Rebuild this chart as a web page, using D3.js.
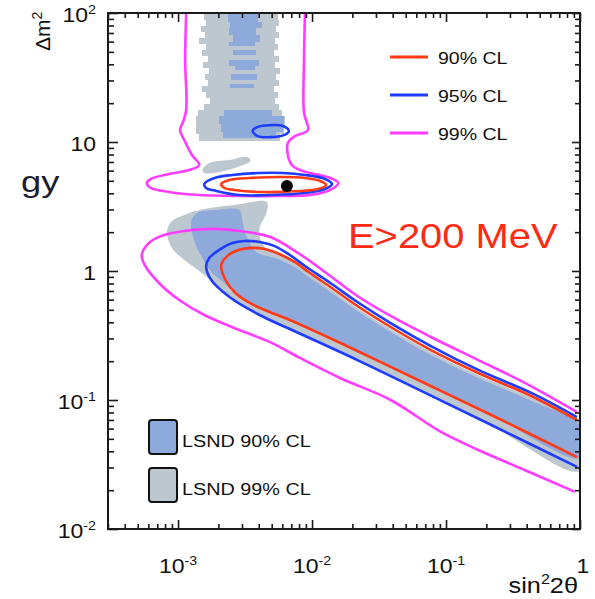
<!DOCTYPE html>
<html><head><meta charset="utf-8">
<script src="https://cdn.jsdelivr.net/npm/d3@7"></script>
<style>
body{margin:0;background:#fff}
svg{display:block}
text{font-family:"Liberation Sans",Arial,sans-serif}
</style>
</head><body>
<svg id="chart" width="595" height="599"></svg>
<script>
// ---- axes ----
const xDomain = [3e-4, 1];
const yDomain = [0.01, 100];
const xTicks = [1e-3, 1e-2, 1e-1, 1];
const xTickBase = ["10", "10", "10", "1"];
const xTickExp = ["-3", "-2", "-1", ""];
const yTicks = [0.01, 0.1, 1, 10, 100];
const yTickBase = ["10", "10", "1", "10", "10"];
const yTickExp = ["-2", "-1", "", "", "2"];

// ---- LSND allowed regions: [sin^2 2θ, Δm²] ----
// high-Δm² column, stored as horizontal slices [Δm² top, Δm² bottom, sin² left, sin² right]
const lsnd99Slices = [
  [100, 88.3, 1.57e-3, 5.55e-3], [88.3, 79.3, 1.62e-3, 5.65e-3], [79.3, 71.2, 1.49e-3, 5.36e-3],
  [71.2, 64.0, 1.60e-3, 5.65e-3], [64.0, 57.5, 1.44e-3, 5.27e-3], [57.5, 51.7, 1.62e-3, 5.55e-3],
  [51.7, 46.4, 1.52e-3, 5.18e-3], [46.4, 41.7, 1.68e-3, 5.65e-3], [41.7, 37.5, 1.54e-3, 5.27e-3],
  [37.5, 33.7, 1.71e-3, 5.75e-3], [33.7, 30.2, 1.60e-3, 5.36e-3], [30.2, 27.2, 1.68e-3, 5.65e-3],
  [27.2, 24.4, 1.52e-3, 5.18e-3], [24.4, 21.9, 1.62e-3, 5.55e-3], [21.9, 19.7, 1.74e-3, 5.27e-3],
  [19.7, 17.7, 1.57e-3, 5.65e-3], [17.7, 15.9, 1.41e-3, 5.95e-3], [15.9, 13.3, 1.37e-3, 6.27e-3],
  [13.3, 11.5, 1.37e-3, 6.16e-3], [11.5, 10.2, 1.44e-3, 5.75e-3]
];
const lsnd90Slices = [
  [100, 85.1, 2.34e-3, 3.93e-3], [85.1, 76.5, 2.46e-3, 4.21e-3], [76.5, 67.5, 2.38e-3, 3.79e-3],
  [67.5, 59.6, 2.55e-3, 4.06e-3], [59.6, 55.5, 2.42e-3, 3.73e-3], [51.7, 47.3, 2.55e-3, 3.79e-3],
  [43.2, 38.8, 2.42e-3, 4.00e-3], [38.8, 36.1, 2.68e-3, 3.73e-3], [33.7, 30.2, 2.50e-3, 3.86e-3],
  [28.2, 26.2, 2.46e-3, 3.66e-3], [17.7, 15.9, 2.22e-3, 5.00e-3], [15.9, 13.8, 2.03e-3, 6.16e-3],
  [13.8, 11.95, 2.10e-3, 6.05e-3], [11.95, 10.7, 2.18e-3, 5.36e-3]
];
const lsnd99Island = [
  [1.52e-3, 6.06], [1.71e-3, 6.87], [2.42e-3, 7.25], [3.30e-3, 7.65],
  [3.48e-3, 7.12], [2.78e-3, 6.40], [1.87e-3, 5.75], [1.57e-3, 5.75]
];
const lsnd99Band = [
  [8.27e-4, 2.01], [8.86e-4, 2.40], [1.11e-3, 2.72], [1.57e-3, 3.02], [2.64e-3, 3.25],
  [4.59e-3, 3.43], [4.59e-3, 2.87], [4.06e-3, 2.15], [4.14e-3, 1.74], [4.67e-3, 1.46],
  [5.95e-3, 1.31], [8.12e-3, 1.11], [1.37e-2, 0.725], [2.18e-2, 0.517], [3.86e-2, 0.355],
  [7.71e-2, 0.236], [0.174, 0.156], [0.436, 0.104], [1.0, 0.0675], [1.0, 0.0282],
  [0.218, 0.0629], [6.83e-2, 0.113], [2.18e-2, 0.201], [6.83e-3, 0.349], [4.06e-3, 0.448],
  [2.42e-3, 0.618], [1.77e-3, 0.837], [1.44e-3, 1.0], [1.11e-3, 1.22], [9.01e-4, 1.51]
];
const lsnd90Band = [
  [1.25e-3, 2.40], [1.39e-3, 2.82], [1.87e-3, 2.97], [2.87e-3, 2.97], [3.03e-3, 2.40],
  [3.25e-3, 1.84], [3.86e-3, 1.40], [5.27e-3, 1.26], [7.45e-3, 1.07], [9.66e-3, 0.882],
  [1.37e-2, 0.688], [2.18e-2, 0.490], [3.86e-2, 0.337], [7.71e-2, 0.223], [0.174, 0.148],
  [0.436, 0.0982], [1.0, 0.0629], [1.0, 0.0355], [0.218, 0.0765], [6.83e-2, 0.136],
  [2.18e-2, 0.240], [6.83e-3, 0.417], [4.83e-3, 0.481], [3.54e-3, 0.555], [2.68e-3, 0.675],
  [2.30e-3, 0.779], [1.77e-3, 0.982], [1.52e-3, 1.26], [1.34e-3, 1.65]
];

// ---- confidence-level contours: [sin^2 2θ, Δm²] ----
const cl99Upper = [
  [1.15e-3, 100], [1.13e-3, 43.2], [1.15e-3, 17.7], [1.09e-3, 14.3], [1.035e-3, 12.4],
  [1.11e-3, 10.4], [1.27e-3, 7.93], [1.44e-3, 6.63], [1.21e-3, 6.06], [8.56e-4, 5.65],
  [6.27e-4, 5.17], [5.85e-4, 4.81], [6.27e-4, 4.40], [8.56e-4, 4.10], [1.44e-3, 3.88],
  [2.87e-3, 3.81], [5.75e-3, 3.81], [9.66e-3, 3.88], [1.37e-2, 4.25], [1.57e-2, 4.81],
  [1.37e-2, 5.26], [9.66e-3, 5.75], [8.12e-3, 6.06], [7.07e-3, 6.63], [6.60e-3, 7.93],
  [6.60e-3, 9.82], [7.45e-3, 11.1], [9.33e-3, 12.4], [8.71e-3, 16.8], [8.71e-3, 43.2],
  [8.86e-3, 100]
];
const cl99Lower = [
  [0.949, 0.0807], [0.366, 0.140], [0.174, 0.204], [7.71e-2, 0.308], [3.86e-2, 0.448],
  [2.18e-2, 0.640], [1.37e-2, 0.915], [8.12e-3, 1.35], [4.83e-3, 1.84], [2.87e-3, 2.04],
  [1.87e-3, 2.12], [1.11e-3, 2.04], [7.20e-4, 1.84], [5.85e-4, 1.59], [5.36e-4, 1.33],
  [5.65e-4, 1.11], [7.20e-4, 0.807], [1.02e-3, 0.596], [1.57e-3, 0.456], [2.87e-3, 0.349],
  [4.83e-3, 0.282], [8.12e-3, 0.212], [1.62e-2, 0.148], [3.86e-2, 0.100], [9.17e-2, 0.0565],
  [0.174, 0.0410], [0.386, 0.0287], [0.917, 0.0194]
];
const cl95Lower = [
  [0.949, 0.0738], [0.436, 0.113], [0.174, 0.171], [7.71e-2, 0.262], [3.86e-2, 0.395],
  [2.18e-2, 0.575], [1.37e-2, 0.807], [8.86e-3, 1.093], [6.83e-3, 1.33], [5.27e-3, 1.56],
  [4.06e-3, 1.68], [3.14e-3, 1.71], [2.55e-3, 1.65], [2.03e-3, 1.46], [1.71e-3, 1.26],
  [1.62e-3, 1.093], [1.77e-3, 0.851], [2.42e-3, 0.629], [4.06e-3, 0.456], [6.83e-3, 0.355],
  [2.18e-2, 0.204], [6.83e-2, 0.115], [0.218, 0.0640], [0.949, 0.0303]
];
const cl90Lower = [
  [0.949, 0.0700], [0.436, 0.107], [0.174, 0.162], [7.71e-2, 0.244], [3.86e-2, 0.368],
  [2.18e-2, 0.535], [1.37e-2, 0.752], [9.66e-3, 0.964], [7.45e-3, 1.17], [5.75e-3, 1.35],
  [4.43e-3, 1.48], [3.60e-3, 1.51], [2.87e-3, 1.46], [2.34e-3, 1.31], [2.10e-3, 1.11],
  [2.26e-3, 0.851], [2.68e-3, 0.675], [3.54e-3, 0.555], [4.83e-3, 0.481], [6.83e-3, 0.417],
  [2.18e-2, 0.240], [6.83e-2, 0.136], [0.218, 0.0765], [0.949, 0.0361]
];
const cl95Island = [
  [1.57e-3, 4.73], [1.87e-3, 5.26], [2.55e-3, 5.55], [4.06e-3, 5.75], [6.05e-3, 5.75],
  [8.86e-3, 5.55], [1.25e-2, 5.17], [1.41e-2, 4.73], [1.25e-2, 4.32], [8.86e-3, 4.02],
  [4.83e-3, 3.88], [2.87e-3, 3.88], [1.93e-3, 4.17], [1.62e-3, 4.40]
];
const cl90Island = [
  [2.10e-3, 4.73], [2.42e-3, 5.07], [3.42e-3, 5.26], [6.05e-3, 5.35], [8.86e-3, 5.26],
  [1.15e-2, 4.99], [1.275e-2, 4.64], [1.11e-2, 4.32], [8.12e-3, 4.17], [4.06e-3, 4.10],
  [2.64e-3, 4.25], [2.22e-3, 4.40]
];
const cl95Small = [
  [3.60e-3, 12.2], [3.93e-3, 13.1], [4.83e-3, 13.5], [6.05e-3, 13.3],
  [6.71e-3, 12.2], [6.16e-3, 11.3], [4.83e-3, 10.9], [3.93e-3, 11.1]
];
const bestFit = [6.49e-3, 4.56];

const clLegend = ["90% CL", "95% CL", "99% CL"];
const lsndLegend = ["LSND 90% CL", "LSND 99% CL"];

// ---- colours ----
const RED = "#ff3a16", BLUE = "#1e3cff", MAGENTA = "#ff3cff";
const LSND90 = "#8eaadb", LSND99 = "#bcc7cf", FRAME = "#1a1a1a";

const svg = d3.select("#chart");
const L = 108, R = 580, T = 13, B = 529;
const x = d3.scaleLog().domain(xDomain).range([L, R]);
const y = d3.scaleLog().domain(yDomain).range([B, T]);

svg.append("defs").append("clipPath").attr("id", "plot")
  .append("rect").attr("x", L).attr("y", T).attr("width", R - L).attr("height", B - T);
const plot = svg.append("g").attr("clip-path", "url(#plot)");

const openLine = d3.line().x(d => x(d[0])).y(d => y(d[1])).curve(d3.curveCatmullRom.alpha(0.5));
const closedLine = d3.line().x(d => x(d[0])).y(d => y(d[1])).curve(d3.curveCatmullRomClosed.alpha(0.5));

// LSND fills
function slices(data, fill) {
  plot.append("g").selectAll("rect").data(data).join("rect")
    .attr("x", d => x(d[2])).attr("width", d => x(d[3]) - x(d[2]))
    .attr("y", d => y(d[0])).attr("height", d => y(d[1]) - y(d[0]))
    .attr("fill", fill).attr("shape-rendering", "crispEdges");
}
slices(lsnd99Slices, LSND99);
plot.append("path").attr("d", closedLine(lsnd99Island)).attr("fill", LSND99);
plot.append("path").attr("d", closedLine(lsnd99Band)).attr("fill", LSND99);
slices(lsnd90Slices, LSND90);
plot.append("path").attr("d", closedLine(lsnd90Band)).attr("fill", LSND90);

// contours
const lines = [
  [cl99Upper, MAGENTA, false], [cl99Lower, MAGENTA, false],
  [cl95Lower, BLUE, false], [cl95Island, BLUE, true], [cl95Small, BLUE, true],
  [cl90Lower, RED, false], [cl90Island, RED, true]
];
lines.forEach(([pts, col, closed]) => {
  plot.append("path").attr("d", (closed ? closedLine : openLine)(pts))
    .attr("fill", "none").attr("stroke", col).attr("stroke-width", 2.6)
    .attr("stroke-linejoin", "round");
});
plot.append("circle").attr("cx", x(bestFit[0])).attr("cy", y(bestFit[1])).attr("r", 6).attr("fill", "#000");

// frame and ticks
function minors(dom) {
  const out = [];
  for (let e = Math.floor(Math.log10(dom[0])); e < Math.log10(dom[1]); e++)
    for (let k = 2; k <= 9; k++) { const v = k * Math.pow(10, e); if (v >= dom[0] && v <= dom[1]) out.push(v); }
  return out;
}
const xMinor = minors(xDomain), yMinor = minors(yDomain);
function axis(gen, scale, vals, size, tx, ty) {
  const g = svg.append("g").attr("transform", `translate(${tx},${ty})`)
    .call(gen(scale).tickValues(vals).tickSize(size).tickFormat(""));
  g.select(".domain").remove();
  g.selectAll("line").attr("stroke", FRAME).attr("stroke-width", 1.6);
}
axis(d3.axisBottom, x, xTicks, -9, 0, B);
axis(d3.axisBottom, x, xMinor, -5, 0, B);
axis(d3.axisTop, x, xTicks, -9, 0, T);
axis(d3.axisTop, x, xMinor, -5, 0, T);
axis(d3.axisLeft, y, yTicks, -10, L, 0);
axis(d3.axisLeft, y, yMinor, -6, L, 0);
axis(d3.axisRight, y, yTicks, -8, R, 0);
axis(d3.axisRight, y, yMinor, -5, R, 0);
svg.append("rect").attr("x", L).attr("y", T).attr("width", R - L).attr("height", B - T)
  .attr("fill", "none").attr("stroke", FRAME).attr("stroke-width", 2);

// tick labels with exponents
function label(px, py, base, exp, anchor, size, sx) {
  const t = svg.append("text").attr("transform", `translate(${px},${py}) scale(${sx},1)`)
    .attr("text-anchor", anchor).attr("font-size", size).attr("fill", "#111");
  t.append("tspan").text(base);
  if (exp) t.append("tspan").attr("dy", -size * 0.42).attr("font-size", size * 0.62).text(exp);
  return t;
}
yTicks.forEach((v, i) => label(96, y(v) + 9, yTickBase[i], yTickExp[i], "end", 20, 1.15));
xTicks.forEach((v, i) => label(x(v) + (xTickExp[i] ? 0 : 3), 573, xTickBase[i], xTickExp[i], "middle", 20, 1.15));

// axis titles
const yt = svg.append("text").attr("transform", "translate(50,51) rotate(-90)")
  .attr("font-size", 21).attr("fill", "#111");
yt.append("tspan").text("Δm");
yt.append("tspan").attr("dy", -8).attr("font-size", 14).text("2");
const xt = svg.append("text").attr("transform", "translate(578,593) scale(1.15,1)")
  .attr("text-anchor", "end").attr("font-size", 22).attr("fill", "#111");
xt.append("tspan").text("sin");
xt.append("tspan").attr("dy", -9).attr("font-size", 14).text("2");
xt.append("tspan").attr("dy", 9).text("2θ");

// fragment of neighbouring page text
svg.append("text").attr("transform", "translate(21,192) scale(1.25,1)")
  .attr("font-family", "Liberation Serif, serif").attr("font-size", 29).attr("fill", "#1c1c2e").text("gy");

// contour legend
[RED, BLUE, MAGENTA].forEach((c, i) => {
  const yy = 57 + i * 38;
  svg.append("line").attr("x1", 390).attr("x2", 428).attr("y1", yy).attr("y2", yy)
    .attr("stroke", c).attr("stroke-width", 3);
  svg.append("text").attr("transform", `translate(438,${yy + 7}) scale(1.15,1)`)
    .attr("font-size", 17).attr("fill", "#111").text(clLegend[i]);
});

// LSND legend
[LSND90, LSND99].forEach((c, i) => {
  const yy = 420 + i * 48;
  svg.append("rect").attr("x", 149).attr("y", yy).attr("width", 28).attr("height", 34)
    .attr("rx", 3).attr("fill", c).attr("stroke", "#111").attr("stroke-width", 2);
  svg.append("text").attr("transform", `translate(182,${yy + 27}) scale(1.2,1)`)
    .attr("font-size", 16.5).attr("fill", "#111").text(lsndLegend[i]);
});

// energy cut annotation
svg.append("text").attr("transform", "translate(348,248) scale(1.14,1)")
  .attr("font-size", 35).attr("fill", "#ff2a12").text("E>200 MeV");
</script>
</body></html>
